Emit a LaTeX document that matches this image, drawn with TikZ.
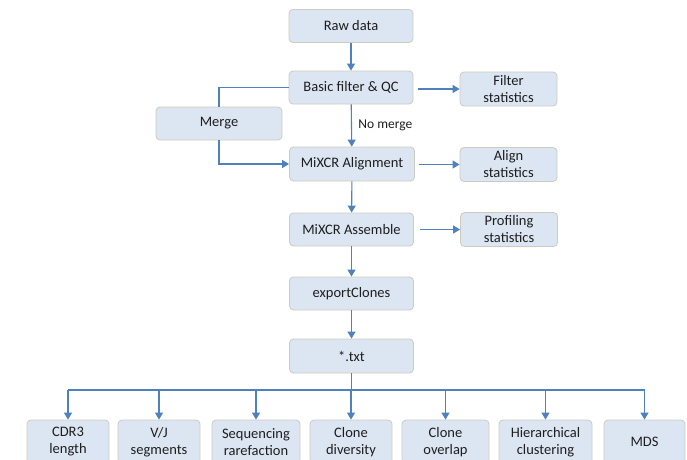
\documentclass[tikz,border=0pt]{standalone}
\usepackage{fontspec}
\setmainfont{Carlito}
\usetikzlibrary{arrows.meta}
\definecolor{boxfill}{RGB}{220,230,242}
\definecolor{boxline}{RGB}{205,203,192}
\definecolor{flow}{RGB}{79,129,189}
\definecolor{ink}{RGB}{30,30,30}
\tikzset{
  stage/.style={draw=boxline, fill=boxfill, rounded corners=4pt, line width=0.8pt,
    minimum width=124pt, minimum height=33pt, inner sep=1pt, align=center,
    text=ink, font=\fontsize{14.5}{17}\selectfont},
  sidebox/.style={stage, minimum width=97pt, minimum height=34pt},
  leaf/.style={stage, minimum height=44pt},
  link/.style={draw=flow, line width=1.1pt},
  flowarrow/.style={link, -{Triangle[length=7pt,width=8pt]}},
}
\begin{document}
\begin{tikzpicture}[x=1pt,y=-1pt]
\useasboundingbox (0,0) rectangle (687,459);
\clip (0,0) rectangle (687,459);
\fill[white] (0,0) rectangle (687,459);

% main pipeline
\node[stage] (raw)   at (351,26)    {Raw data};
\node[stage] (basic) at (351,87.5)  {Basic filter \& QC};
\node[stage, minimum width=126pt] (merge) at (219,123.5) {Merge};
\node[stage, minimum width=125pt, minimum height=34pt] (align) at (352,164) {MiXCR Alignment};
\node[stage] (assem) at (351.5,229.5) {MiXCR Assemble};
\node[stage] (export) at (351.5,293.5) {exportClones};
\node[stage, minimum height=34pt] (txt) at (351.5,356) {*.txt};

% statistics
\node[sidebox] (fstat) at (508.5,89)    {Filter\\statistics};
\node[sidebox] (astat) at (508.5,164.5) {Align\\statistics};
\node[sidebox] (pstat) at (509,229.5)   {Profiling\\statistics};

% analyses
\node[leaf, minimum width=82pt] (cdr)  at (68,442)    {CDR3\\length};
\node[leaf, minimum width=82pt] (vj)   at (159,442)   {V/J\\segments};
\node[leaf, minimum width=88pt] (rare) at (256,442)   {Sequencing\\rarefaction};
\node[leaf, minimum width=82pt] (div)  at (351,442)   {Clone\\diversity};
\node[leaf, minimum width=87pt] (ovl)  at (445.5,442) {Clone\\overlap};
\node[leaf, minimum width=93pt] (hier) at (545.5,442) {Hierarchical\\clustering};
\node[leaf, minimum width=81pt] (mds)  at (644.5,442) {MDS};

% vertical flow
\draw[flowarrow] (raw) -- (basic);
\draw[flowarrow] (basic) -- node[right, xshift=3pt, text=ink, font=\fontsize{13.5}{15}\selectfont] {No merge} (align);
\draw[flowarrow] (align) -- (assem);
\draw[flowarrow] (assem) -- (export);
\draw[flowarrow] (export) -- (txt);

% merge branch
\draw[link] (basic.west) -| (merge.north);
\draw[flowarrow] (merge.south) |- (align.west);

% statistics outputs
\draw[flowarrow] ([xshift=5pt]basic.east |- fstat) -- (fstat.west);
\draw[flowarrow] ([xshift=4pt]align.east |- astat) -- (astat.west);
\draw[flowarrow] ([xshift=6pt]assem.east |- pstat) -- (pstat.west);

% fan-out to analyses
\coordinate (bus) at (351.5,390);
\draw[link] (txt.south) -- (bus);
\draw[link] (cdr.north |- bus) -- (mds.north |- bus);
\foreach \n in {cdr,vj,rare,div,ovl,hier,mds}
  \draw[flowarrow] (\n.north |- bus) -- (\n.north);
\end{tikzpicture}
\end{document}
